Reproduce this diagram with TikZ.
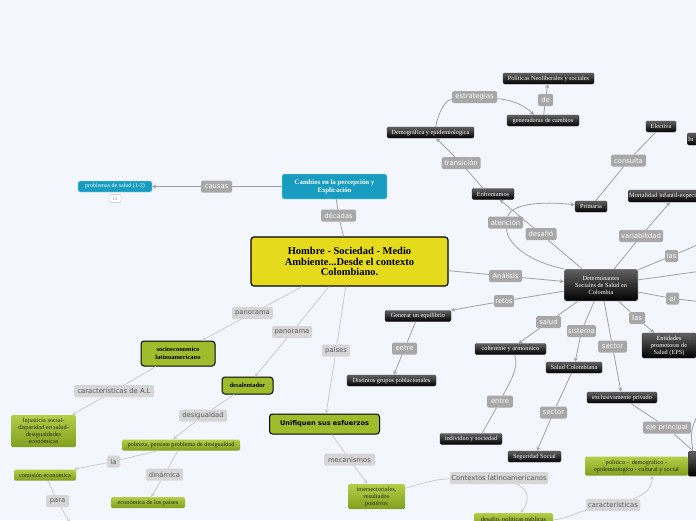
\documentclass[tikz,border=0pt]{standalone}
\usepackage{fontspec}
\setmainfont{Liberation Serif}
\setsansfont{DejaVu Sans}
\usepackage{tikz}
\usetikzlibrary{arrows.meta,positioning}
\definecolor{canvas}{RGB}{243,246,253}
\definecolor{tagdark}{RGB}{168,168,168}
\definecolor{taglight}{RGB}{214,214,214}
\definecolor{tagtext}{RGB}{88,88,88}
\definecolor{wire}{RGB}{160,160,160}
\definecolor{wirelight}{RGB}{204,204,204}
\definecolor{mapyellow}{RGB}{229,218,28}
\definecolor{mapcyan}{RGB}{24,156,192}
\definecolor{mapgreen}{RGB}{158,188,44}
\definecolor{greentop}{RGB}{180,206,72}
\definecolor{greenbot}{RGB}{128,160,30}

\begin{document}
\begin{tikzpicture}[x=1pt, y=-1pt,
    hub/.style={draw=black, line width=1.2pt, fill=mapyellow, rounded corners=3pt, align=center, inner sep=1pt, font=\bfseries\fontsize{10.5}{10.5}\selectfont},
    cyanbox/.style={draw=white!70!mapcyan, fill=mapcyan, text=white, rounded corners=2pt, align=center, inner sep=1pt, font=\fontsize{6}{7}\selectfont},
    darkbox/.style={draw=black!80, top color=black!62, bottom color=black, text=white, rounded corners=1.5pt, align=center, inner sep=1pt, font=\fontsize{6.3}{7}\selectfont},
    greenbox/.style={top color=greentop, bottom color=greenbot, text=black!85, rounded corners=1.5pt, align=center, inner sep=1pt, font=\fontsize{6.3}{7}\selectfont},
    greenframe/.style={draw=black, line width=1pt, fill=mapgreen, text=black, rounded corners=3pt, align=center, inner sep=1pt, font=\bfseries\fontsize{6.5}{7.5}\selectfont},
    tag/.style={fill=tagdark, text=white, rounded corners=1.5pt, inner sep=1pt, minimum height=12pt, font=\sffamily\fontsize{6.8}{7}\selectfont},
    taglt/.style={tag, fill=taglight, text=tagtext},
    badge/.style={draw=black!25, fill=white, text=black!45, rounded corners=1.5pt, inner sep=1pt, minimum width=12pt, minimum height=8pt, font=\fontsize{5}{5}\selectfont},
    link/.style={draw=wire, line width=0.8pt},
    linklt/.style={draw=wirelight, line width=0.8pt},
    arr/.style={link, -{Stealth[length=4pt, width=4pt]}},
    arrlt/.style={linklt, -{Stealth[length=4pt, width=4pt]}}
  ]
    \fill[canvas] (0,0) rectangle (696,520);
    \useasboundingbox (0,0) rectangle (696,520);

    \node[hub, minimum width=197pt, minimum height=49pt] (main) at (349.5,261.5) {Hombre - Sociedad - Medio\\Ambiente...Desde el contexto\\Colombiano.};
    \node[cyanbox, font=\bfseries\fontsize{6.8}{8}\selectfont, minimum width=105pt, minimum height=25pt] (cambios) at (334.5,186.5) {Cambios en la percepción y\\Explicación};
    \node[cyanbox, minimum width=74pt, minimum height=11pt] (problemas) at (115,186.5) {problemas de salud (1-2)};
    \node[badge, below=2pt of problemas] (doce) {12};
    \node[tag, minimum width=31pt] (causas) at (216.5,186.5) {causas};
    \node[tag, minimum width=35pt] (decadas) at (338.5,215.5) {décadas};

    \node[darkbox, minimum width=91pt, minimum height=11pt] (politicas) at (548.5,78.5) {Políticas Neoliberales y sociales};
    \node[darkbox, minimum width=72pt, minimum height=11pt] (generadoras) at (543,120.5) {generadoras de cambios};
    \node[tag, minimum width=15pt] (de) at (545.5,100) {de};
    \node[tag, minimum width=45pt] (estrategias) at (474.5,97) {estrategias};
    \node[darkbox, minimum width=87pt, minimum height=11pt] (demografica) at (430.5,132.5) {Demográfica y epidemiologica};
    \node[tag, minimum width=39pt] (transicion) at (461,163) {transición};
    \node[darkbox, minimum width=42pt, minimum height=11pt] (enfrentamos) at (493,194) {Enfrentamos};
    \node[tag, minimum width=35pt] (atencion) at (505.5,222.5) {atención};
    \node[tag, minimum width=31pt] (desafio) at (541,234) {desafió};
    \node[darkbox, minimum width=32pt, minimum height=11pt] (primaria) at (591,206.5) {Primaria};
    \node[tag, minimum width=35pt] (consulta) at (628.5,160.5) {consulta};
    \node[darkbox, minimum width=30pt, minimum height=11pt] (electiva) at (661,126.5) {Electiva};
    \node[darkbox, anchor=west, minimum height=12pt, text width=30pt, align=left] (inicio) at (687,139) {In};
    \node[darkbox, anchor=west, minimum height=12pt, text width=120pt, align=left] (mortalidad) at (628,196) {Mortalidad infantil-expectativa de vida};
    \node[tag, minimum width=44pt] (variabilidad) at (641,236) {variabilidad};

    \node[darkbox, draw=white, minimum width=74pt, minimum height=32pt] (determinantes) at (601,285) {Determinantes\\Sociales de Salud en\\Colombia};
    \node[tag, minimum width=33pt] (analisis) at (505.5,276) {Análisis};
    \node[tag, minimum width=20pt] (retos) at (504,301) {retos};
    \node[tag, minimum width=13pt] (lasA) at (671.5,256) {las};
    \node[tag, minimum width=13pt] (el) at (672.5,298.5) {el};
    \coordinate (rimA) at (702,243);
    \coordinate (rimB) at (702,271);
    \coordinate (rimC) at (702,302);

    \node[darkbox, minimum width=66pt, minimum height=11pt] (generar) at (418,316) {Generar un equilibrio};
    \node[tag, minimum width=25pt] (entreA) at (404.5,348.5) {entre};
    \node[darkbox, minimum width=89pt, minimum height=11pt] (distintos) at (391.5,380.5) {Distintos grupos poblacionales};
    \node[tag, minimum width=25pt] (salud) at (548.5,322) {salud};
    \node[darkbox, minimum width=71pt, minimum height=11pt] (coherente) at (510.5,349) {coherente y armonnico};
    \node[tag, minimum width=24pt] (sistema) at (581.5,331) {sistema};
    \node[darkbox, minimum width=56pt, minimum height=11pt] (saludcol) at (574,367.5) {Salud Colombiana};
    \node[tag, minimum width=29pt] (sectorA) at (612.5,346.5) {sector};
    \node[tag, minimum width=16pt] (lasB) at (637,318) {las};
    \node[darkbox, minimum width=54pt, minimum height=25pt] (eps) at (669,345.5) {Entidades\\promotoras de\\Salud (EPS)};
    \node[darkbox, minimum width=70pt, minimum height=11pt] (privado) at (622,397.5) {exclusivamente privado};
    \node[tag, minimum width=48pt] (eje) at (667,427.5) {eje principal};
    \node[darkbox, anchor=north west, minimum width=40pt, minimum height=25pt] (ejenodo) at (688,451) {};
    \coordinate (rimD) at (704,402);
    \node[tag, minimum width=26pt] (entreB) at (500,401.5) {entre};
    \node[darkbox, minimum width=62pt, minimum height=11pt] (individuo) at (471,439) {individuo y sociedad};
    \node[tag, minimum width=27pt] (sectorB) at (553.5,412.5) {sector};
    \node[darkbox, minimum width=53pt, minimum height=11pt] (seguridad) at (534.5,456.5) {Seguridad Social};

    \node[greenbox, minimum width=103pt, minimum height=19pt] (politico) at (636.5,466) {politico -\ \ demográfico -\\epidemiologico - cultural y social};
    \node[taglt, minimum width=54pt] (caracteristicas) at (613,505) {características};
    \node[taglt, minimum width=98pt] (contextos) at (499,478) {Contextos latinoamericanos};
    \node[greenbox, minimum width=79pt, minimum height=14pt] (desafiopol) at (513.5,520) {desafio, politicas publicas};
    \node[greenbox, minimum width=57pt, minimum height=25pt] (intersect) at (376.5,496.5) {intersectoriales,\\resultados\\positivos};
    \node[taglt, minimum width=51pt] (mecanismos) at (349.5,459.5) {mecanismos};
    \node[greenframe, font=\sffamily\bfseries\fontsize{6.6}{7.5}\selectfont, minimum width=110pt, minimum height=20pt] (unifiquen) at (324.5,424) {Unifiquen sus esfuerzos};
    \node[taglt, minimum width=28pt] (paises) at (336,350.5) {países};
    \node[taglt, minimum width=40pt] (panoramaB) at (292,332) {panorama};
    \node[taglt, minimum width=41pt] (panoramaA) at (252.5,313) {panorama};

    \node[greenframe, minimum width=74pt, minimum height=25pt] (socio) at (178,353.5) {socioeconomico\\latinoamericano};
    \node[greenframe, minimum width=51pt, minimum height=17pt] (desalentador) at (247.5,385.5) {desalentador};
    \node[taglt, minimum width=80pt] (caractAL) at (114,391) {características de A.L};
    \node[greenbox, minimum width=65pt, minimum height=32pt] (injusticia) at (43.5,431) {Injusticia social-\\disparidad en salud-\\desigualdades\\económicas};
    \node[taglt, minimum width=48pt] (desigualdad) at (203,415.5) {desigualdad};
    \node[greenbox, minimum width=118pt, minimum height=11pt] (pobreza) at (181,445) {pobreza, persiste problema de desigualdad};
    \node[taglt, minimum width=13pt] (la) at (113.5,461.5) {la};
    \node[greenbox, minimum width=62pt, minimum height=11pt] (comision) at (45,475) {comisión economica};
    \node[taglt, minimum width=37pt] (dinamica) at (164.5,474.5) {dinámica};
    \node[greenbox, minimum width=74pt, minimum height=11pt] (economica) at (148,502.5) {económica de los países};
    \node[taglt, minimum width=23pt] (para) at (57.5,501) {para};
    \coordinate (paraend) at (70,523);

    \draw[link] (cambios) -- (causas);
    \draw[arr] (causas) -- (problemas);
    \draw[link] (main) -- (decadas);
    \draw[link] (decadas) -- (cambios);

    \draw[link] (generadoras) -- (de);
    \draw[arr] (de) -- (politicas);
    \draw[link] ([xshift=5pt]demografica.north) .. controls (440,108) and (446,100) .. (estrategias);
    \draw[arr] (estrategias) .. controls (515,100) and (526,107) .. ([xshift=-9pt]generadoras.north);
    \draw[link] ([xshift=-10pt]enfrentamos.north) -- (transicion);
    \draw[arr] (transicion) -- (demografica);
    \draw[link] (determinantes) -- (desafio);
    \draw[arr] (desafio) -- (enfrentamos);
    \draw[link] (determinantes.north west) .. controls (530,262) and (508,245) .. (atencion);
    \draw[arr] (atencion) .. controls (512,204) and (540,201) .. (primaria);
    \draw[link] (primaria) -- (consulta);
    \draw[link] (consulta) -- (electiva);
    \draw[link] (determinantes) -- (variabilidad);
    \draw[arr] (variabilidad) -- ([xshift=42pt]mortalidad.south west);

    \draw[arr] (main) -- (analisis) -- (determinantes);
    \draw[link] (determinantes) -- (lasA) -- (rimA);
    \draw[link] (determinantes) -- (rimB);
    \draw[link] (determinantes) -- (el) -- (rimC);
    \draw[link] (determinantes) -- (retos);
    \draw[arr] (retos) -- (generar);
    \draw[link] (generar) -- (entreA);
    \draw[arr] (entreA) -- (distintos);
    \draw[link] (determinantes) -- (salud);
    \draw[arr] (salud) -- (coherente);
    \draw[link] (determinantes) -- (sistema);
    \draw[arr] (sistema) -- (saludcol);
    \draw[link] (determinantes) -- (sectorA);
    \draw[arr] (sectorA) -- (privado);
    \draw[link] (determinantes) -- (lasB);
    \draw[arr] (lasB) -- (eps);
    \draw[link] (privado) -- (eje);
    \draw[link] (eje) -- ([xshift=5pt]ejenodo.north west);
    \draw[link] ([xshift=5pt]ejenodo.north west) .. controls (690,430) .. (rimD);
    \draw[link] ([xshift=4pt]coherente.south) .. controls (520,368) and (508,385) .. (entreB);
    \draw[link] (entreB) -- ([xshift=11pt]individuo.north);
    \draw[link] (saludcol) -- (sectorB);
    \draw[arr] (sectorB) -- (seguridad);

    \draw[linklt] (desafiopol.east) .. controls (568,518) and (578,512) .. (caracteristicas);
    \draw[arrlt] (caracteristicas) .. controls (645,495) and (652,488) .. ([xshift=15.5pt]politico.south);
    \draw[linklt] (intersect) .. controls (420,484) and (435,479) .. (contextos);
    \draw[arrlt] (contextos) .. controls (532,490) and (528,503) .. ([xshift=7pt]desafiopol.north);
    \draw[linklt] (unifiquen) -- (mecanismos);
    \draw[arrlt] (mecanismos) -- (intersect);
    \draw[linklt] (main) -- (paises);
    \draw[arrlt] (paises) -- (unifiquen);
    \draw[linklt] (main) -- (panoramaB);
    \draw[arrlt] (panoramaB) -- (desalentador);
    \draw[linklt] (main) -- (panoramaA);
    \draw[arrlt] (panoramaA) -- (socio);

    \draw[linklt] (socio) -- (caractAL);
    \draw[arrlt] (caractAL) -- (injusticia);
    \draw[linklt] (desalentador) -- (desigualdad);
    \draw[arrlt] (desigualdad) -- ([xshift=-8pt]pobreza.north);
    \draw[linklt] (pobreza) -- (la);
    \draw[arrlt] (la) -- (comision);
    \draw[linklt] (pobreza) -- (dinamica);
    \draw[arrlt] (dinamica) -- (economica);
    \draw[linklt] (comision) -- (para);
    \draw[arrlt] (para) -- (paraend);
  \end{tikzpicture}
\end{document}
